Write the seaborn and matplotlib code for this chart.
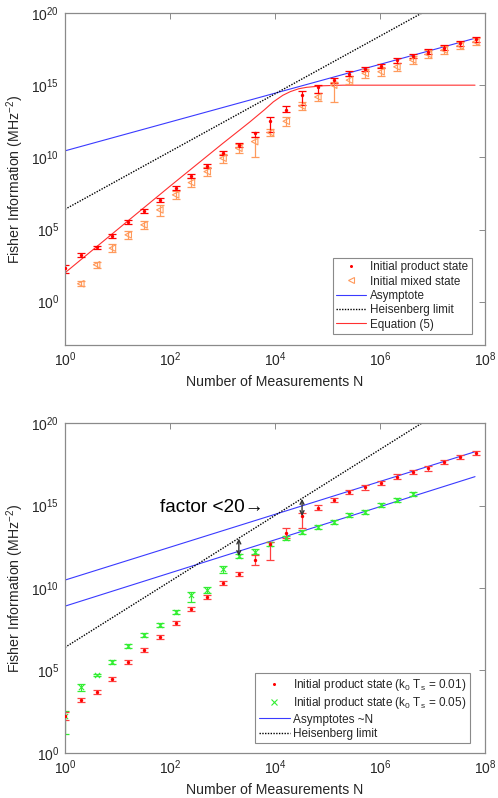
import numpy as np
import pandas as pd
import matplotlib
matplotlib.use('Agg')
import matplotlib.pyplot as plt
from matplotlib.lines import Line2D
from matplotlib.ticker import NullLocator
import seaborn as sns

# number of measurements (x positions of the points)
n_meas = [1, 2, 4, 8, 16, 32, 64, 128, 256, 512, 1024, 2048, 4096, 8192,
          16384, 32768, 65536, 131072, 262144, 524288, 1048576, 2097152,
          4194304, 8388608, 16777216, 33554432, 67108864]

# ---- top panel (values are log10 of Fisher information) ----
top_prod = [2.33, 3.24, 3.77, 4.57, 5.54, 6.30, 7.06, 7.88, 8.72, 9.41, 10.28,
            10.88, 11.67, 12.54, 13.30, 14.32, 14.85, 15.33, 15.80, 16.14,
            16.32, 16.72, 17.00, 17.33, 17.60, 17.89, 18.17]
top_prod_lo = [0.33, 0.12, 0.12, 0.14, 0.14, 0.14, 0.14, 0.14, 0.14, 0.14, 0.14,
               0.14, 0.26, 0.76, 0.15, 0.72, 0.37, 0.15, 0.15, 0.15, 0.15, 0.15,
               0.15, 0.15, 0.15, 0.15, 0.15]
top_prod_hi = [0.23, 0.12, 0.12, 0.14, 0.14, 0.14, 0.14, 0.14, 0.14, 0.14, 0.14,
               0.14, 0.10, 0.28, 0.28, 0.30, 0.17, 0.15, 0.15, 0.15, 0.15, 0.15,
               0.15, 0.15, 0.15, 0.15, 0.15]

top_mixed = [np.nan, 1.24, 2.56, 3.71, 4.63, 5.32, 6.36, 7.40, 8.25, 9.01, 9.94,
             10.63, 11.09, 11.71, 12.50, 13.55, 14.18, 15.00, 15.35, 15.82,
             15.93, 16.27, 16.74, 17.13, 17.43, 17.73, 18.00]
top_mixed_lo = [0.0, 0.18, 0.22, 0.28, 0.30, 0.28, 0.41, 0.30, 0.30, 0.33, 0.30,
                0.30, 1.04, 0.25, 0.30, 0.28, 0.30, 1.20, 0.30, 0.32, 0.30, 0.30,
                0.30, 0.28, 0.28, 0.25, 0.25]
top_mixed_hi = [0.0, 0.18, 0.22, 0.28, 0.30, 0.28, 0.34, 0.30, 0.30, 0.33, 0.30,
                0.30, 0.30, 0.25, 0.30, 0.28, 0.30, 0.20, 0.30, 0.32, 0.30, 0.30,
                0.30, 0.28, 0.28, 0.25, 0.25]

# straight lines read at their ends (log10 N, log10 F)
top_asym_logN = [0.0, 7.81]
top_asym_logF = [10.45, 18.25]
heis_logN = [0.0, 7.0]
heis_logF = [6.40, 20.40]
eq5_logN = [0.0, 1.0, 2.0, 3.0, 3.33, 3.52, 3.80, 3.97, 4.15, 4.29, 4.45, 4.60,
            4.92, 5.30, 7.81]
eq5_logF = [2.0, 5.0, 8.0, 10.95, 11.9, 12.45, 13.3, 13.85, 14.3, 14.55, 14.75,
            14.85, 14.96, 15.0, 15.0]

# ---- bottom panel ----
bot_red = [2.24, 3.21, 3.72, 4.50, 5.53, 6.24, 7.01, 7.86, 8.71, 9.44, 10.30,
           10.85, 11.68, 12.65, 13.31, 14.36, 14.87, 15.33, 15.80, 16.10, 16.35,
           16.75, 17.03, 17.25, 17.65, 17.92, 18.20]
bot_red_lo = [0.22, 0.10, 0.12, 0.12, 0.12, 0.12, 0.12, 0.12, 0.12, 0.12, 0.12,
              0.12, 0.26, 0.95, 0.30, 0.74, 0.15, 0.13, 0.13, 0.13, 0.13, 0.13,
              0.13, 0.13, 0.13, 0.13, 0.13]
bot_red_hi = [0.22, 0.10, 0.12, 0.12, 0.12, 0.12, 0.12, 0.12, 0.12, 0.12, 0.12,
              0.12, 0.35, 0.15, 0.34, 0.20, 0.15, 0.13, 0.13, 0.13, 0.13, 0.13,
              0.13, 0.13, 0.13, 0.13, 0.13]

bot_green = [2.24, 3.98, 4.73, 5.53, 6.48, 7.15, 7.76, 8.55, 9.58, 9.88, 11.13,
             11.94, 12.20, 12.67, 13.01, 13.41, 13.68, 14.02, 14.42, 14.62,
             15.03, 15.33, 15.70]
bot_green_lo = [1.10, 0.20, 0.08, 0.12, 0.14, 0.12, 0.12, 0.12, 0.40, 0.20, 0.20,
                0.15, 0.15, 0.12, 0.12, 0.12, 0.12, 0.12, 0.12, 0.12, 0.12, 0.12,
                0.12]
bot_green_hi = [0.30, 0.20, 0.08, 0.12, 0.14, 0.12, 0.12, 0.12, 0.20, 0.20, 0.20,
                0.15, 0.15, 0.12, 0.12, 0.12, 0.12, 0.12, 0.12, 0.12, 0.12, 0.12,
                0.12]

bot_asym1_logN = [0.0, 7.81]
bot_asym1_logF = [10.48, 18.26]
bot_asym2_logN = [0.0, 7.81]
bot_asym2_logF = [8.90, 16.75]

# "factor" arrows: N, top (Heisenberg line) and bottom (data point), log10
arrow_N = [2048, 32768]
arrow_top = [13.0, 15.4]
arrow_bot = [11.94, 14.36]
factor_text = "factor <20\u2192"
factor_pos = (10 ** 1.81, 10 ** 14.9)

RED = '#ff0000'
ORANGE = '#ff9a5c'
GREEN = '#33ee33'
BLUE = '#3a3aff'
AXCOL = '#8a8a8a'
TXT = '#262626'

sns.set_theme(style='white')
plt.rcParams['font.family'] = ['Liberation Sans', 'DejaVu Sans']
plt.rcParams['mathtext.fontset'] = 'custom'
plt.rcParams['mathtext.rm'] = 'Liberation Sans'
plt.rcParams['mathtext.it'] = 'Liberation Sans:italic'
plt.rcParams['mathtext.bf'] = 'Liberation Sans:bold'


def line(ax, logN, logF, **kw):
    df = pd.DataFrame({'N': np.power(10.0, logN), 'F': np.power(10.0, logF)})
    sns.lineplot(data=df, x='N', y='F', ax=ax, estimator=None, sort=False, **kw)


def points(ax, vals, lo, hi, ecolor, **kw):
    v = np.array(vals, float)
    n = np.array(n_meas[:len(v)], float)
    y = np.power(10.0, v)
    yerr = [y - np.power(10.0, v - np.array(lo)), np.power(10.0, v + np.array(hi)) - y]
    ax.errorbar(n, y, yerr=yerr, fmt='none', ecolor=ecolor, elinewidth=0.9,
                capsize=2.8, capthick=0.9)
    df = pd.DataFrame({'N': n, 'F': y}).dropna()
    sns.scatterplot(data=df, x='N', y='F', ax=ax, legend=False, zorder=3, **kw)


def style(ax, ylim):
    ax.set_xscale('log')
    ax.set_yscale('log')
    ax.set_xlim(1, 1e8)
    ax.set_ylim(*ylim)


def finish(ax):
    ax.set_xticks([1e0, 1e2, 1e4, 1e6, 1e8])
    ax.set_yticks([1e0, 1e5, 1e10, 1e15, 1e20])
    ax.xaxis.set_minor_locator(NullLocator())
    ax.yaxis.set_minor_locator(NullLocator())
    ax.set_xlim(1, 1e8)
    ax.tick_params(direction='in', top=True, right=True, length=4, width=0.7,
                   color=AXCOL, labelcolor=TXT, labelsize=10, pad=4)
    for s in ax.spines.values():
        s.set_color(AXCOL)
        s.set_linewidth(0.9)
    ax.set_xlabel('Number of Measurements N', fontsize=10.2, color=TXT)
    ax.set_ylabel('Fisher Information (MHz$^{-2}$)', fontsize=10.2, color=TXT)


fig = plt.figure(figsize=(4.98, 7.98), dpi=100)
ax1 = fig.add_axes([0.1305, 0.5677, 0.8434, 0.416])
ax2 = fig.add_axes([0.1305, 0.0564, 0.8434, 0.4135])

# top panel
style(ax1, (1e-3, 1e20))
line(ax1, top_asym_logN, top_asym_logF, color=BLUE, lw=0.8)
line(ax1, heis_logN, heis_logF, color='black', lw=1.0, linestyle=(0, (1, 1)))
line(ax1, eq5_logN, eq5_logF, color='#ff3030', lw=0.8)
points(ax1, top_mixed, top_mixed_lo, top_mixed_hi, ORANGE, marker='<', s=22,
       facecolor='none', edgecolor=ORANGE, linewidth=0.8)
points(ax1, top_prod, top_prod_lo, top_prod_hi, RED, marker='o', s=6,
       color=RED, linewidth=0)
finish(ax1)
h1 = [Line2D([], [], ls='none', marker='o', ms=2.2, color=RED, mew=0),
      Line2D([], [], ls='none', marker='<', ms=4.5, mfc='none', mec=ORANGE, mew=0.8),
      Line2D([], [], color=BLUE, lw=0.8),
      Line2D([], [], color='black', lw=1.0, ls=(0, (1, 1))),
      Line2D([], [], color='#ff3030', lw=0.8)]
leg = ax1.legend(h1, ['Initial product state', 'Initial mixed state', 'Asymptote',
                      'Heisenberg limit', 'Equation (5)'],
                 loc='lower right', bbox_to_anchor=(0.968, 0.033), borderaxespad=0,
                 fontsize=8.4, handlelength=2.6, handletextpad=0.3, labelspacing=0.2,
                 borderpad=0.3, fancybox=False, framealpha=1, edgecolor=AXCOL)
leg.get_frame().set_linewidth(0.8)

# bottom panel
style(ax2, (1e0, 1e20))
line(ax2, bot_asym1_logN, bot_asym1_logF, color=BLUE, lw=0.8)
line(ax2, bot_asym2_logN, bot_asym2_logF, color=BLUE, lw=0.8)
line(ax2, heis_logN, heis_logF, color='black', lw=1.0, linestyle=(0, (1, 1)))
points(ax2, bot_green, bot_green_lo, bot_green_hi, GREEN, marker='x', s=14,
       color=GREEN, linewidth=0.8)
points(ax2, bot_red, bot_red_lo, bot_red_hi, '#ff4040', marker='o', s=6,
       color=RED, linewidth=0)
for xn, t, b in zip(arrow_N, arrow_top, arrow_bot):
    ax2.annotate('', xy=(xn, 10 ** b), xytext=(xn, 10 ** t),
                 arrowprops=dict(arrowstyle='<->', color='#333333', lw=1.0,
                                 shrinkA=0, shrinkB=0, mutation_scale=7))
ax2.text(factor_pos[0], factor_pos[1], factor_text, fontsize=13.7, color='black',
         ha='left', va='center')
finish(ax2)
h2 = [Line2D([], [], ls='none', marker='o', ms=2.2, color=RED, mew=0),
      Line2D([], [], ls='none', marker='x', ms=4, color=GREEN, mew=0.8),
      Line2D([], [], color=BLUE, lw=0.8),
      Line2D([], [], color='black', lw=1.0, ls=(0, (1, 1)))]
leg2 = ax2.legend(h2, [r'Initial product state (k$_{\mathrm{0}}$ T$_{\mathrm{s}}$ = 0.01)',
                       r'Initial product state (k$_{\mathrm{0}}$ T$_{\mathrm{s}}$ = 0.05)',
                       'Asymptotes ~N', 'Heisenberg limit'],
                  loc='lower right', bbox_to_anchor=(0.964, 0.029), borderaxespad=0,
                  fontsize=8.5, handlelength=2.6, handletextpad=0.3, labelspacing=0.2,
                  borderpad=0.3, fancybox=False, framealpha=1, edgecolor=AXCOL)
leg2.get_frame().set_linewidth(0.8)

fig.savefig('out.png', dpi=100)
